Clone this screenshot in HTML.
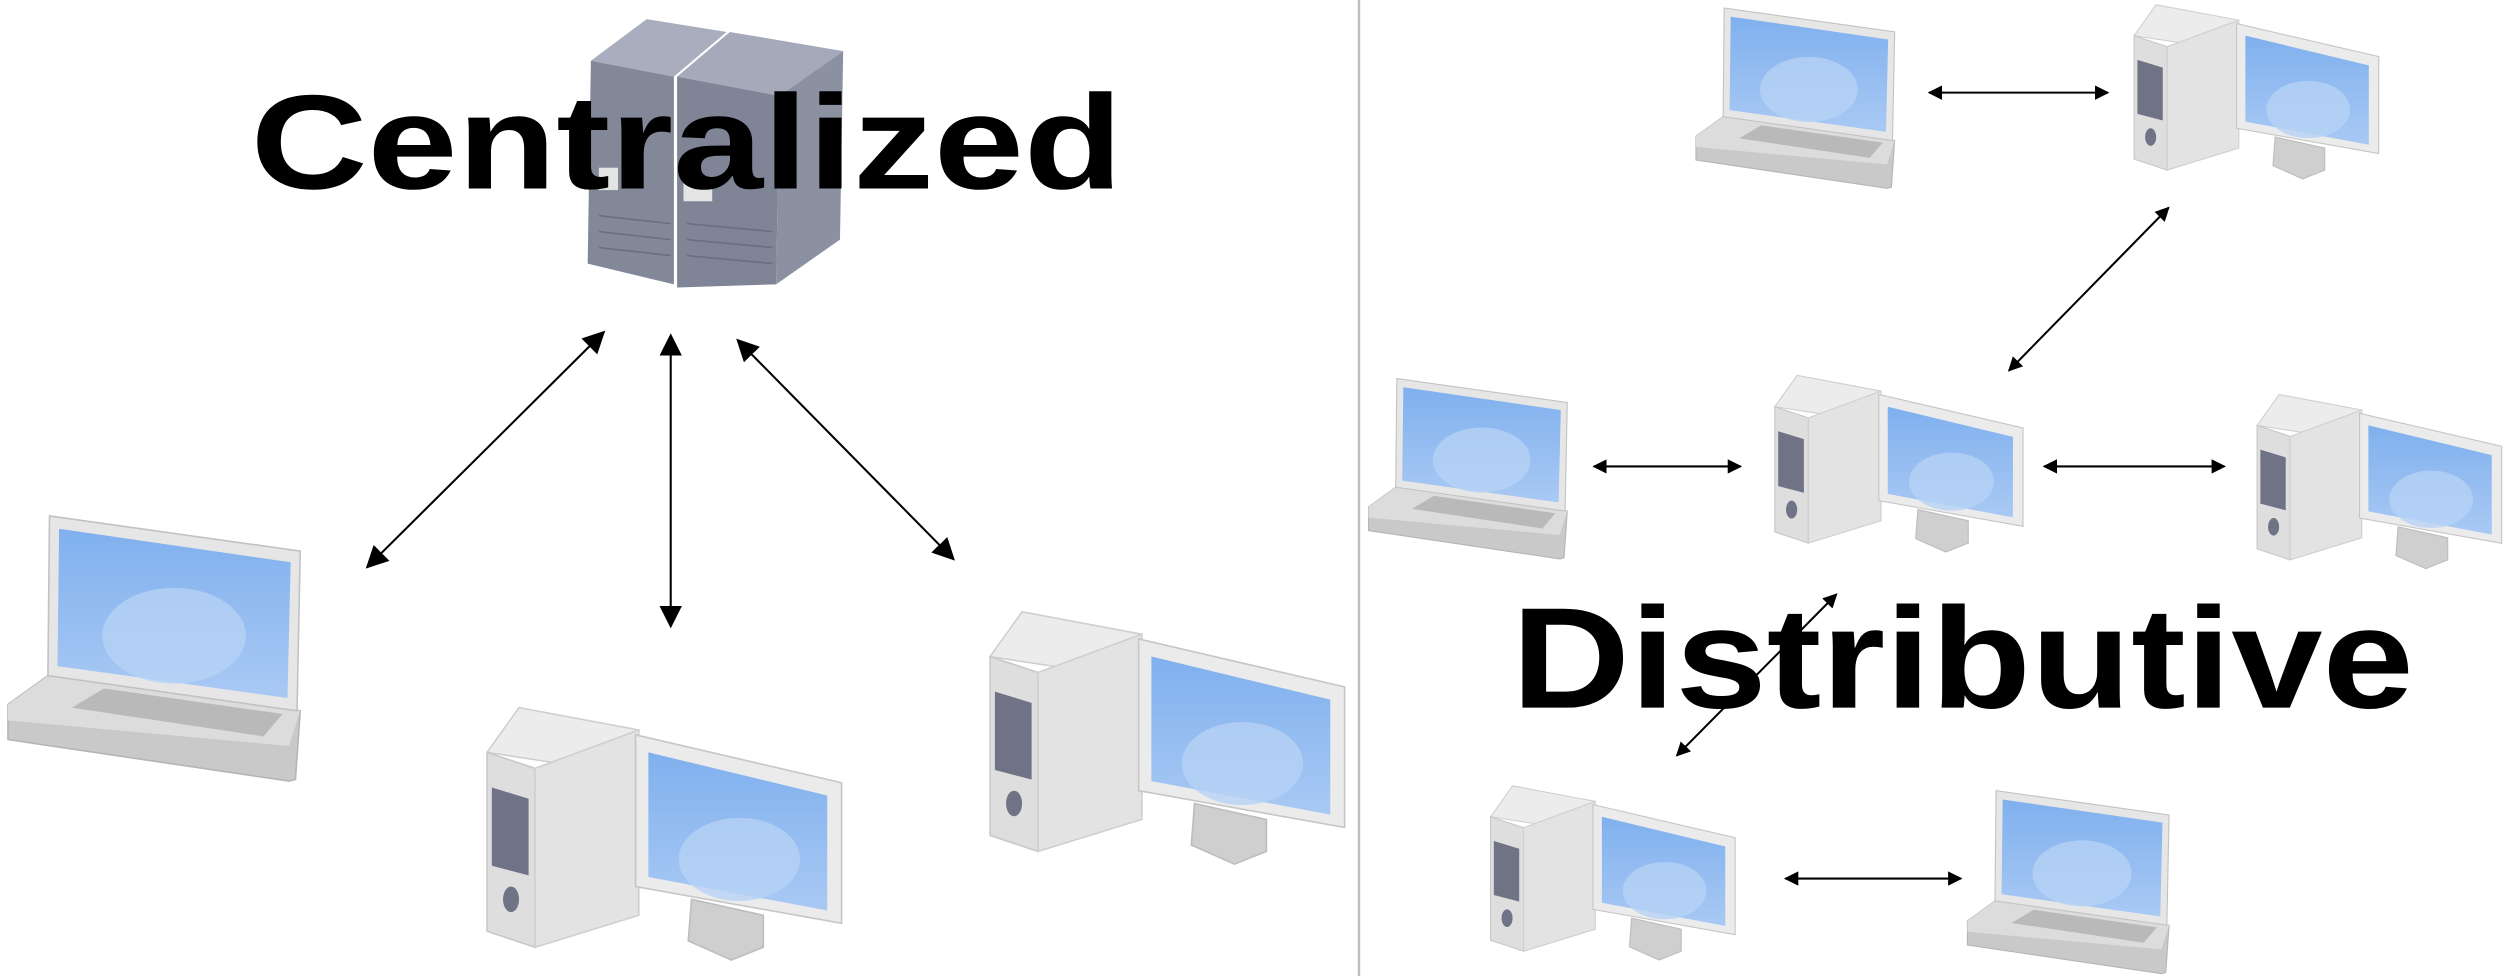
<!DOCTYPE html>
<html><head><meta charset="utf-8"><style>html,body{margin:0;padding:0;background:#fff}svg{display:block}</style></head>
<body>
<svg width="2504" height="976" viewBox="0 0 1568 611" preserveAspectRatio="none" xmlns="http://www.w3.org/2000/svg">
<defs>
<linearGradient id="scr" x1="0" y1="0" x2="0" y2="1"><stop offset="0" stop-color="#7fb0ee"/><stop offset="1" stop-color="#a9c9f4"/></linearGradient>
<radialGradient id="glow" cx="0.5" cy="0.75" r="0.5"><stop offset="0" stop-color="#c4dcf8"/><stop offset="1" stop-color="#a7c8f2"/></radialGradient>
<marker id="ah" viewBox="0 0 10 10" refX="9" refY="5" markerWidth="9" markerHeight="9" markerUnits="userSpaceOnUse" orient="auto-start-reverse"><path d="M0,0 L10,5 L0,10 z" fill="#000"/></marker>
<marker id="ahb" viewBox="0 0 10 10" refX="9" refY="5" markerWidth="14" markerHeight="14" markerUnits="userSpaceOnUse" orient="auto-start-reverse"><path d="M0,0 L10,5 L0,10 z" fill="#000"/></marker>
<g id="laptop">
  <polygon points="0,118 25,100 183,122 180,165 176,166 0,140" fill="#c9c9c9" stroke="#b5b5b5"/>
  <polygon points="0,118 25,100 183,122 176,144 0,128" fill="#dcdcdc"/>
  <polygon points="60,108 172,124 160,138 40,120" fill="#b9b9b9"/>
  <polygon points="26,0 183,22 181,122 25,100" fill="#e6e6e6" stroke="#c2c2c2"/>
  <polygon points="32,8 177,29 175,114 31,94" fill="url(#scr)"/>
  <ellipse cx="104" cy="75" rx="45" ry="30" fill="#b6d2f5" opacity="0.8"/>
</g>
<g id="desk">
  <polygon points="2,28 22,0 97,14 80,40" fill="#ececec" stroke="#cfcfcf"/>
  <polygon points="2,28 32,38 32,150 2,140" fill="#dedede" stroke="#c8c8c8"/>
  <polygon points="5,50 28,57 28,105 5,99" fill="#6f7385"/>
  <ellipse cx="17" cy="120" rx="5" ry="8" fill="#6f7385"/>
  <polygon points="32,38 97,14 97,130 32,150" fill="#e3e3e3" stroke="#cfcfcf"/>
  <polygon points="130,120 175,130 175,150 155,158 128,146" fill="#cfcfcf" stroke="#bdbdbd"/>
  <polygon points="95,17 224,47 224,135 95,112" fill="#ebebeb" stroke="#c6c6c6"/>
  <polygon points="103,28 215,55 215,127 103,106" fill="url(#scr)"/>
  <ellipse cx="160" cy="95" rx="38" ry="26" fill="#b6d2f5" opacity="0.8"/>
</g>
</defs>
<rect x="0" y="0" width="1568" height="611" fill="#fff"/>
<line x1="851" y1="0" x2="851" y2="611" stroke="#bdbdbd" stroke-width="1.5"/>

<!-- server -->
<g>
  <polygon points="370,38 405,12 455,20 422,48" fill="#a9adbd"/>
  <polygon points="424,48 457,20 528,32 488,60" fill="#a5a9ba"/>
  <polygon points="370,38 422,48 422,178 368,165" fill="#838899"/>
  <polygon points="424,48 488,60 486,178 424,180" fill="#7f8496"/>
  <polygon points="488,60 528,32 526,150 486,178" fill="#8c91a2"/>
  <rect x="428" y="112" width="18" height="14" fill="#e4e4e4"/>
  <rect x="375" y="105" width="12" height="14" fill="#e4e4e4"/>
  <g stroke="#6a6f80" stroke-width="1"><line x1="375" y1="135" x2="420" y2="140"/><line x1="375" y1="145" x2="420" y2="150"/><line x1="375" y1="155" x2="420" y2="160"/><line x1="430" y1="140" x2="484" y2="145"/><line x1="430" y1="150" x2="484" y2="155"/><line x1="430" y1="160" x2="484" y2="165"/></g>
</g>

<use href="#laptop" transform="translate(5,323)"/>
<use href="#desk" transform="translate(303,443)"/>
<use href="#desk" transform="translate(618,383)"/>

<g stroke="#000" stroke-width="1.3" fill="none">
  <line x1="378" y1="208" x2="230" y2="355" marker-start="url(#ahb)" marker-end="url(#ahb)"/>
  <line x1="420" y1="210" x2="420" y2="392" marker-start="url(#ahb)" marker-end="url(#ahb)"/>
  <line x1="462" y1="213" x2="597" y2="350" marker-start="url(#ahb)" marker-end="url(#ahb)"/>
</g>
<text x="430" y="118" text-anchor="middle" font-family="Liberation Sans, sans-serif" font-weight="bold" font-size="84" textLength="546" lengthAdjust="spacingAndGlyphs" fill="#000">Centralized</text>

<!-- distributive -->
<use href="#laptop" transform="translate(1062,5) scale(0.68)"/>
<use href="#desk" transform="translate(1335,3) scale(0.69)"/>
<use href="#laptop" transform="translate(857,237) scale(0.68)"/>
<use href="#desk" transform="translate(1110,235) scale(0.7)"/>
<use href="#desk" transform="translate(1412,247) scale(0.69)"/>
<use href="#desk" transform="translate(932,492) scale(0.69)"/>
<use href="#laptop" transform="translate(1232,495) scale(0.69)"/>

<g stroke="#000" stroke-width="1.3" fill="none">
  <line x1="1208" y1="58" x2="1320" y2="58" marker-start="url(#ah)" marker-end="url(#ah)"/>
  <line x1="1358" y1="130" x2="1258" y2="232" marker-start="url(#ah)" marker-end="url(#ah)"/>
  <line x1="998" y1="292" x2="1090" y2="292" marker-start="url(#ah)" marker-end="url(#ah)"/>
  <line x1="1280" y1="292" x2="1393" y2="292" marker-start="url(#ah)" marker-end="url(#ah)"/>
  <line x1="1150" y1="372" x2="1050" y2="473" marker-start="url(#ah)" marker-end="url(#ah)"/>
  <line x1="1118" y1="550" x2="1228" y2="550" marker-start="url(#ah)" marker-end="url(#ah)"/>
</g>
<text x="1229" y="443" text-anchor="middle" font-family="Liberation Sans, sans-serif" font-weight="bold" font-size="90" textLength="565" lengthAdjust="spacingAndGlyphs" fill="#000">Distributive</text>
</svg>
</body></html>
